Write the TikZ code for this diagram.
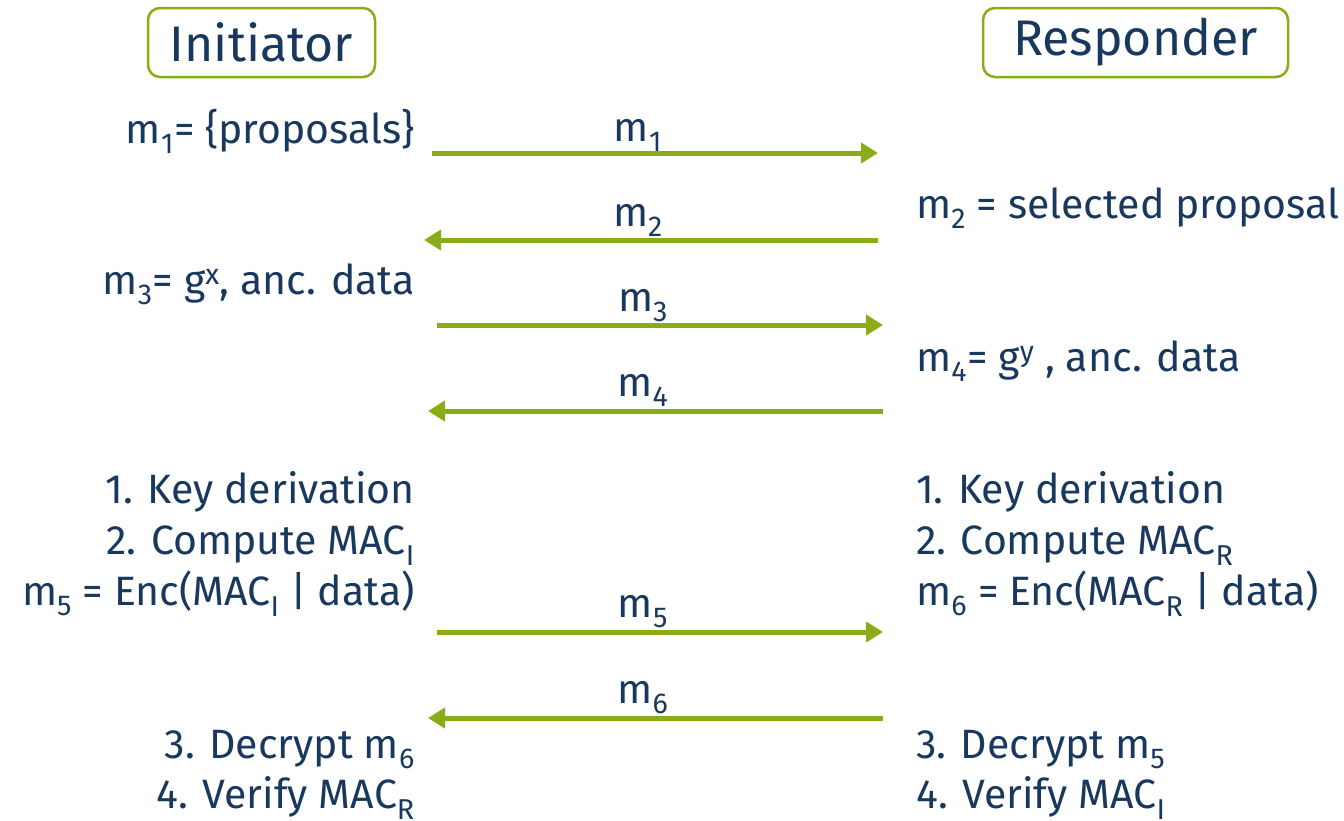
\documentclass[tikz,border=0pt]{standalone}
\usepackage{fontspec}
\setmainfont{Fira Sans}[Scale=1]
\usetikzlibrary{arrows.meta}
\definecolor{txt}{RGB}{25,56,94}
\definecolor{grn}{RGB}{138,172,22}
\begin{document}
\begin{tikzpicture}[x=1pt,y=-1pt,
  every node/.style={text=txt,font=\fontsize{41}{48}\selectfont,inner sep=0pt},
  hdr/.style={draw=grn,line width=2.5pt,rounded corners=12pt,minimum height=69pt,font=\fontsize{50}{56}\selectfont},
  msg/.style={draw=grn,line width=5pt,-{Triangle[length=17pt,width=20pt]}}]
\useasboundingbox (0,0) rectangle (1344,820);
\node[hdr,minimum width=227pt] (ini) at (261.5,42.5) {Initiator};
\node[hdr,minimum width=305pt] (res) at (1135.5,42.5) {Responder};
% coordinates for arrow ends
\coordinate (a1s) at (432,153); \coordinate (a1e) at (878,153);
\coordinate (a2s) at (878,240); \coordinate (a2e) at (424,240);
\coordinate (a3s) at (437,325); \coordinate (a3e) at (883,325);
\coordinate (a4s) at (883,411); \coordinate (a4e) at (428,411);
\coordinate (a5s) at (437,632); \coordinate (a5e) at (883,632);
\coordinate (a6s) at (883,718); \coordinate (a6e) at (428,718);
\draw[msg] (a1s) -- (a1e);
\draw[msg] (a2s) -- (a2e);
\draw[msg] (a3s) -- (a3e);
\draw[msg] (a4s) -- (a4e);
\draw[msg] (a5s) -- (a5e);
\draw[msg] (a6s) -- (a6e);
\node[anchor=base] (l1) at (638,141) {m\textsubscript{1}};
\node[anchor=base] (l2) at (638,226) {m\textsubscript{2}};
\node[anchor=base] (l3) at (643,311) {m\textsubscript{3}};
\node[anchor=base] (l4) at (643,396) {m\textsubscript{4}};
\node[anchor=base] (l5) at (643,617) {m\textsubscript{5}};
\node[anchor=base] (l6) at (643,703) {m\textsubscript{6}};
% left texts
\node[anchor=base east] (t1) at (415,143) {m\textsubscript{1}= \{proposals\}};
\node[anchor=base east] (t3) at (415,294) {m\textsubscript{3}= g\textsuperscript{x}, anc. data};
\node[anchor=base east] (t5a) at (415,503) {1. Key derivation};
\node[anchor=base east] (t5b) at (415,554) {2. Compute MAC\textsubscript{I}};
\node[anchor=base east] (t5c) at (415,605) {m\textsubscript{5} = Enc(MAC\textsubscript{I} | data)};
\node[anchor=base east] (t7a) at (415,758) {3. Decrypt m\textsubscript{6}};
\node[anchor=base east] (t7b) at (415,808) {4. Verify MAC\textsubscript{R}};
% right texts
\node[anchor=base west] (t2) at (916,218) {m\textsubscript{2} = selected proposal};
\node[anchor=base west] (t4) at (916,371) {m\textsubscript{4}= g\textsuperscript{y} , anc. data};
\node[anchor=base west] (t6a) at (916,503) {1. Key derivation};
\node[anchor=base west] (t6b) at (916,554) {2. Compute MAC\textsubscript{R}};
\node[anchor=base west] (t6c) at (916,605) {m\textsubscript{6} = Enc(MAC\textsubscript{R} | data)};
\node[anchor=base west] (t8a) at (916,758) {3. Decrypt m\textsubscript{5}};
\node[anchor=base west] (t8b) at (916,808) {4. Verify MAC\textsubscript{I}};
\end{tikzpicture}
\end{document}
